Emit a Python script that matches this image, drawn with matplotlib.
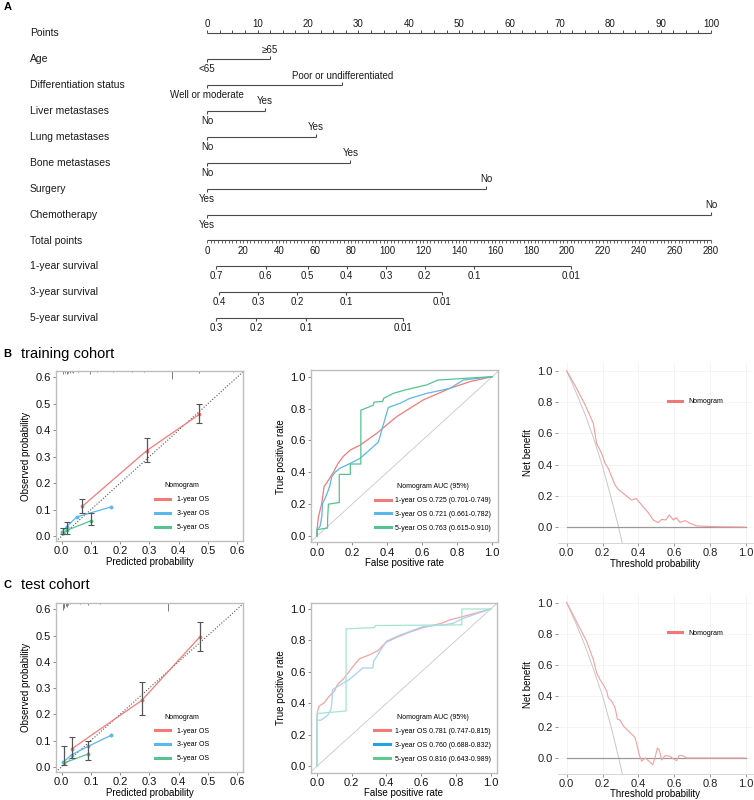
import numpy as np
import matplotlib
matplotlib.use("Agg")
import matplotlib.pyplot as plt

plt.rcParams['font.family'] = ['Liberation Sans', 'DejaVu Sans']

W, H = 754, 800

# ---------------- panel A: nomogram ----------------
nomo_vars = ["Age", "Differentiation status", "Liver metastases", "Lung metastases",
             "Bone metastases", "Surgery", "Chemotherapy"]
nomo_low = ["<65", "Well or moderate", "No", "No", "No", "Yes", "Yes"]
nomo_high = ["≥65", "Poor or undifferentiated", "Yes", "Yes", "Yes", "No", "No"]
nomo_points = [12.4, 26.8, 11.4, 21.6, 28.4, 55.4, 100.0]

surv_rows = ["1-year survival", "3-year survival", "5-year survival"]
surv_1y_lab = ["0.7", "0.6", "0.5", "0.4", "0.3", "0.2", "0.1", "0.01"]
surv_1y_tp = [5.0, 32.5, 55.7, 77.4, 99.5, 120.9, 148.2, 202.0]
surv_3y_lab = ["0.4", "0.3", "0.2", "0.1", "0.01"]
surv_3y_tp = [6.4, 28.1, 50.1, 77.2, 130.2]
surv_5y_lab = ["0.3", "0.2", "0.1", "0.01"]
surv_5y_tp = [4.8, 27.1, 54.8, 108.7]
total_max = 280

# ---------------- calibration ----------------
cal_tr_1y_x = [0.071, 0.291, 0.471]
cal_tr_1y_y = [0.113, 0.323, 0.460]
cal_tr_1y_lo = [0.086, 0.281, 0.426]
cal_tr_1y_hi = [0.140, 0.369, 0.499]
cal_tr_3y_x = [0.002, 0.017, 0.051, 0.169]
cal_tr_3y_y = [0.016, 0.035, 0.072, 0.110]
cal_tr_5y_x = [0.004, 0.018, 0.099]
cal_tr_5y_y = [0.011, 0.022, 0.057]
cal_tr_5y_lo = [0.006, 0.006, 0.042]
cal_tr_5y_hi = [0.029, 0.054, 0.087]
rug_tr_x = [0.006, 0.011, 0.017, 0.023, 0.029, 0.034, 0.040, 0.057, 0.097, 0.120,
            0.177, 0.240, 0.280, 0.379, 0.471, 0.587]
rug_tr_h = [0.012, 0.010, 0.012, 0.008, 0.010, 0.006, 0.008, 0.006, 0.014, 0.006,
            0.006, 0.006, 0.006, 0.030, 0.010, 0.006]

cal_te_1y_x = [0.034, 0.274, 0.473]
cal_te_1y_y = [0.068, 0.253, 0.495]
cal_te_1y_lo = [0.035, 0.196, 0.441]
cal_te_1y_hi = [0.112, 0.323, 0.551]
cal_te_3y_x = [0.006, 0.034, 0.091, 0.169]
cal_te_3y_y = [0.018, 0.046, 0.078, 0.120]
cal_te_5y_x = [0.009, 0.091]
cal_te_5y_y = [0.015, 0.049]
cal_te_5y_lo = [0.006, 0.024]
cal_te_5y_hi = [0.079, 0.097]
rug_te_x = [0.006, 0.009, 0.014, 0.017, 0.023, 0.029, 0.063, 0.091, 0.131, 0.365]
rug_te_h = [0.028, 0.020, 0.012, 0.016, 0.008, 0.006, 0.006, 0.008, 0.006, 0.030]

os_labels = ["1-year OS", "3-year OS", "5-year OS"]

# ---------------- ROC ----------------
roc_tr_1y_fpr = [0, 0, 0.008, 0.027, 0.04, 0.065, 0.093, 0.12, 0.15, 0.19, 0.245, 0.34,
                 0.454, 0.606, 0.759, 0.873, 1.0]
roc_tr_1y_tpr = [0, 0.04, 0.12, 0.205, 0.31, 0.35, 0.40, 0.456, 0.50, 0.54, 0.57, 0.644,
                 0.749, 0.854, 0.927, 0.969, 1.0]
roc_tr_3y_fpr = [0, 0, 0.017, 0.027, 0.032, 0.05, 0.065, 0.074, 0.084, 0.103, 0.13, 0.19,
                 0.245, 0.30, 0.35, 0.375, 0.407, 0.473, 0.53, 0.625, 0.759, 0.835, 1.0]
roc_tr_3y_tpr = [0, 0.04, 0.06, 0.12, 0.205, 0.247, 0.289, 0.32, 0.372, 0.40, 0.425, 0.456,
                 0.487, 0.54, 0.59, 0.686, 0.807, 0.833, 0.864, 0.895, 0.927, 0.979, 1.0]
roc_tr_5y_fpr = [0, 0, 0.06, 0.06, 0.065, 0.127, 0.127, 0.19, 0.19, 0.25, 0.25, 0.32, 0.325,
                 0.375, 0.38, 0.435, 0.5, 0.625, 0.69, 1.0]
roc_tr_5y_tpr = [0, 0.04, 0.05, 0.1, 0.2, 0.21, 0.387, 0.387, 0.452, 0.452, 0.79, 0.82, 0.84,
                 0.845, 0.864, 0.895, 0.916, 0.948, 0.979, 1.0]
roc_tr_labels = ["1-year OS 0.725 (0.701-0.749)", "3-year OS 0.721 (0.661-0.782)",
                 "5-year OS 0.763 (0.615-0.910)"]

roc_te_1y_fpr = [0, 0, 0.004, 0.013, 0.042, 0.071, 0.1, 0.119, 0.158, 0.187, 0.216, 0.245,
                 0.303, 0.351, 0.399, 0.457, 0.534, 0.611, 0.717, 0.765, 0.861, 1.0]
roc_te_1y_tpr = [0, 0.29, 0.35, 0.383, 0.404, 0.446, 0.478, 0.52, 0.562, 0.604, 0.646, 0.684,
                 0.709, 0.735, 0.789, 0.819, 0.853, 0.882, 0.909, 0.931, 0.958, 1.0]
roc_te_3y_fpr = [0, 0, 0.023, 0.062, 0.081, 0.087, 0.09, 0.187, 0.264, 0.322, 0.326, 0.36,
                 0.399, 0.457, 0.534, 0.611, 0.726, 0.784, 0.842, 1.0]
roc_te_3y_tpr = [0, 0.293, 0.293, 0.324, 0.362, 0.415, 0.488, 0.552, 0.625, 0.625, 0.667,
                 0.726, 0.794, 0.825, 0.857, 0.888, 0.899, 0.909, 0.941, 1.0]
roc_te_5y_fpr = [0, 0, 0.168, 0.168, 0.331, 0.337, 0.834, 0.834, 1.0]
roc_te_5y_tpr = [0, 0.335, 0.352, 0.874, 0.882, 0.895, 0.899, 1.0, 1.0]
roc_te_labels = ["1-year OS 0.781 (0.747-0.815)", "3-year OS 0.760 (0.688-0.832)",
                 "5-year OS 0.816 (0.643-0.989)"]

# ---------------- DCA ----------------
dca_tr_x = [0, 0.05, 0.1, 0.149, 0.167, 0.195, 0.214, 0.232, 0.27, 0.288, 0.316, 0.362,
            0.387, 0.418, 0.455, 0.483, 0.511, 0.53, 0.552, 0.572, 0.595, 0.61, 0.632,
            0.66, 0.688, 0.725, 0.836, 0.994]
dca_tr_nb = [1.0, 0.90, 0.79, 0.664, 0.536, 0.472, 0.409, 0.377, 0.27, 0.243, 0.217, 0.174,
             0.185, 0.143, 0.094, 0.047, 0.03, 0.051, 0.047, 0.079, 0.047, 0.062, 0.032,
             0.043, 0.026, 0.009, 0.004, 0.002]
dca_te_x = [0, 0.112, 0.149, 0.167, 0.186, 0.204, 0.223, 0.232, 0.251, 0.27, 0.283, 0.297,
            0.316, 0.353, 0.381, 0.39, 0.405, 0.418, 0.437, 0.455, 0.48, 0.493, 0.506,
            0.517, 0.53, 0.548, 0.576, 0.595, 0.613, 0.628, 0.647, 0.669, 0.994]
dca_te_nb = [1.0, 0.749, 0.632, 0.547, 0.504, 0.472, 0.43, 0.387, 0.366, 0.323, 0.249, 0.245,
             0.206, 0.164, 0.132, 0.094, 0.019, -0.021, 0.0, -0.017, -0.043, 0.004, 0.064,
             0.047, -0.013, 0.015, 0.011, -0.006, -0.017, 0.017, 0.015, 0.0, 0.0]
dca_all_x = [0, 0.05, 0.1, 0.15, 0.2, 0.25, 0.29, 0.33]
dca_tr_all = [1.0, 0.87, 0.73, 0.57, 0.39, 0.18, 0.0, -0.2]
dca_te_all = [1.0, 0.87, 0.73, 0.57, 0.40, 0.19, 0.0, -0.2]
dca_none_x = [0, 1.0]
dca_none = [0, 0]

RED, BLUE, GREEN = '#F47A7A', '#5BB7EC', '#55C48E'
RED_L, BLUE_L, GREEN_L = '#F6A3A3', '#A6D3F3', '#A3E4D2'

fig = plt.figure(figsize=(W / 100, H / 100), dpi=100)


def rect(left, top, right, bottom):
    return [left / W, 1 - bottom / H, (right - left) / W, (bottom - top) / H]


# ---------------- nomogram ----------------
x0, ppu = 207.3, 5.037          # pixel of 0 points, pixels per point
axn = fig.add_axes([0, 1 - 335 / H, 1, 335 / H])
axn.set_xlim(-x0 / ppu, (W - x0) / ppu)
axn.set_ylim(335, 0)
axn.axis('off')
LC, TC = '#4a4a4a', '#1a1a1a'
rows = 33.3 + 25.9 * np.arange(12)
lab_x = (30 - x0) / ppu

axn.text(lab_x, rows[0], "Points", fontsize=7.5, color=TC, va='center')
axn.hlines(rows[0], 0, 100, color=LC, lw=0.8)
axn.vlines(np.arange(0, 100.1, 2.5), rows[0] - 3, rows[0], color=LC, lw=0.7)
for v in range(0, 101, 10):
    axn.text(v, rows[0] - 9, str(v), fontsize=7, color=TC, ha='center', va='center')

for i, name in enumerate(nomo_vars):
    y = rows[i + 1]
    axn.text(lab_x, y, name, fontsize=7.5, color=TC, va='center')
    axn.hlines(y, 0, nomo_points[i], color=LC, lw=0.8)
    axn.vlines([0], y, y + 3, color=LC, lw=0.8)
    axn.vlines([nomo_points[i]], y - 3, y, color=LC, lw=0.8)
    axn.text(0, y + 10, nomo_low[i], fontsize=7, color=TC, ha='center', va='center')
    axn.text(nomo_points[i], y - 9.5, nomo_high[i], fontsize=7, color=TC, ha='center', va='center')

y = rows[8]
sc = 100 / total_max
axn.text(lab_x, y, "Total points", fontsize=7.5, color=TC, va='center')
axn.hlines(y, 0, 100, color=LC, lw=0.8)
axn.vlines(np.arange(0, total_max + 0.1, 2) * sc, y, y + 2.5, color=LC, lw=0.6)
for v in range(0, total_max + 1, 20):
    axn.text(v * sc, y + 10, str(v), fontsize=7, color=TC, ha='center', va='center')

for k, (labs, tps) in enumerate([(surv_1y_lab, surv_1y_tp), (surv_3y_lab, surv_3y_tp),
                                 (surv_5y_lab, surv_5y_tp)]):
    y = rows[9 + k]
    xs = np.array(tps) * sc
    axn.text(lab_x, y, surv_rows[k], fontsize=7.5, color=TC, va='center')
    axn.hlines(y, xs[0], xs[-1], color=LC, lw=0.8)
    axn.vlines(xs, y, y + 3, color=LC, lw=0.8)
    for xv, lb in zip(xs, labs):
        axn.text(xv, y + 10, lb, fontsize=7, color=TC, ha='center', va='center')

# ---------------- helpers ----------------
def style_box(ax):
    for s in ax.spines.values():
        s.set_color('#BDBDBD')
        s.set_linewidth(1.0)
    ax.tick_params(length=2.5, width=0.6, color='#777777', labelsize=8, pad=1.2,
                   labelcolor='#111111')


def draw_cal(ax, d1, d3, d5, rug_x, rug_h):
    ax.set_xlim(-0.02, 0.62)
    ax.set_ylim(-0.02, 0.625)
    ax.axline((0, 0), (1, 1), color='#555555', lw=0.8, ls=(0, (1, 1.6)))
    ax.vlines(rug_x, 0.625 - np.array(rug_h), 0.625, color='#666666', lw=0.6)
    x, yv, lo, hi = [np.array(a) for a in d1]
    ax.plot(x, yv, color=RED, lw=0.9, marker='o', ms=1.8, label=os_labels[0], zorder=3)
    x3, y3 = d3
    ax.plot(x3, y3, color=BLUE, lw=0.9, marker='o', ms=1.8, label=os_labels[1], zorder=3)
    x5, y5, lo5, hi5 = [np.array(a) for a in d5]
    ax.plot(x5, y5, color=GREEN, lw=0.9, marker='o', ms=1.8, label=os_labels[2], zorder=3)
    ax.errorbar(x, yv, yerr=[yv - lo, hi - yv], fmt='none', ecolor='#555555',
                elinewidth=0.9, capsize=2, capthick=0.8, zorder=4)
    ax.errorbar(x5, y5, yerr=[y5 - lo5, hi5 - y5], fmt='none', ecolor='#555555',
                elinewidth=0.9, capsize=2, capthick=0.8, zorder=4)
    ticks = np.arange(0, 0.61, 0.1)
    ax.set_xticks(ticks)
    ax.set_yticks(ticks)
    ax.set_xticklabels(['%.1f' % t for t in ticks])
    ax.set_yticklabels(['%.1f' % t for t in ticks])
    style_box(ax)
    ax.set_xlabel("Predicted probability", fontsize=7, labelpad=0.5)
    ax.set_ylabel("Observed probability", fontsize=7, labelpad=3)
    leg = ax.legend(loc='upper left', bbox_to_anchor=(0.53, 0.345), frameon=False,
                    title="Nomogram", fontsize=5, title_fontsize=5, handlelength=2.2,
                    handletextpad=0.9, labelspacing=1.0, borderpad=0, borderaxespad=0)
    for h in leg.get_lines():
        h.set_linewidth(2.2)
        h.set_marker('')


def draw_roc(ax, curves, cols, leg_cols, labels):
    ax.set_xlim(-0.035, 1.035)
    ax.set_ylim(-0.04, 1.04)
    ax.axline((0, 0), (1, 1), color='#C8C8C8', lw=0.6)
    for (f, t), c in zip(curves, cols):
        ax.plot(f, t, color=c, lw=0.9)
    for c, lb in zip(leg_cols, labels):
        ax.plot([], [], color=c, lw=2.2, label=lb)
    ticks = np.arange(0, 1.01, 0.2)
    ax.set_xticks(ticks)
    ax.set_yticks(ticks)
    ax.set_xticklabels(['%.1f' % t for t in ticks])
    ax.set_yticklabels(['%.1f' % t for t in ticks])
    style_box(ax)
    ax.set_xlabel("False positive rate", fontsize=7, labelpad=0.5)
    ax.set_ylabel("True positive rate", fontsize=7, labelpad=3)
    ax.legend(loc='upper left', bbox_to_anchor=(0.342, 0.345), frameon=False,
              title="Nomogram AUC (95%)", fontsize=5, title_fontsize=5, handlelength=2.3,
              handletextpad=0.6, labelspacing=1.0, borderpad=0, borderaxespad=0)


def draw_dca(ax, x, nb, all_nb, col, leg_y):
    ax.set_xlim(-0.05, 1.04)
    ax.set_ylim(-0.1, 1.05)
    ticks = np.arange(0, 1.01, 0.2)
    ax.set_xticks(ticks)
    ax.set_yticks(ticks)
    ax.set_xticklabels(['%.1f' % t for t in ticks])
    ax.set_yticklabels(['%.1f' % t for t in ticks])
    ax.grid(True, color='#F2F2F2', lw=0.6)
    ax.set_axisbelow(True)
    ax.plot(dca_all_x, all_nb, color='#C8C8C8', lw=0.7)
    ax.plot(dca_none_x, dca_none, color='#9A9A9A', lw=0.9)
    ax.plot(x, nb, color=col, lw=0.8)
    ax.plot([], [], color='#F27878', lw=2.2, label="Nomogram")
    for s in ['top', 'right', 'left']:
        ax.spines[s].set_visible(False)
    ax.spines['bottom'].set_color('#D0D0D0')
    ax.spines['bottom'].set_linewidth(0.6)
    ax.tick_params(length=2.5, width=0.6, color='#888888', labelsize=8, pad=1.2,
                   labelcolor='#222222')
    ax.set_xlabel("Threshold probability", fontsize=7, labelpad=0.5)
    ax.set_ylabel("Net benefit", fontsize=7, labelpad=3)
    ax.legend(loc='center left', bbox_to_anchor=(0.564, leg_y), frameon=False,
              fontsize=5, handlelength=2.0, handletextpad=0.9, borderpad=0, borderaxespad=0)


# ---------------- panel labels ----------------
fig.text(4 / W, 1 - 7 / H, "A", fontsize=8, weight='bold', va='center')
fig.text(3 / W, 1 - 354 / H, "B", fontsize=8, weight='bold', va='center')
fig.text(21 / W, 1 - 354 / H, "training cohort", fontsize=10.5, va='center')
fig.text(3 / W, 1 - 585 / H, "C", fontsize=8, weight='bold', va='center')
fig.text(21 / W, 1 - 585 / H, "test cohort", fontsize=10.5, va='center')

# ---------------- panel B ----------------
ax = fig.add_axes(rect(55.9, 370.7, 242.9, 541.3))
draw_cal(ax, (cal_tr_1y_x, cal_tr_1y_y, cal_tr_1y_lo, cal_tr_1y_hi),
         (cal_tr_3y_x, cal_tr_3y_y),
         (cal_tr_5y_x, cal_tr_5y_y, cal_tr_5y_lo, cal_tr_5y_hi), rug_tr_x, rug_tr_h)

ax = fig.add_axes(rect(310.9, 370.3, 498.4, 542.4))
draw_roc(ax, [(roc_tr_1y_fpr, roc_tr_1y_tpr), (roc_tr_3y_fpr, roc_tr_3y_tpr),
              (roc_tr_5y_fpr, roc_tr_5y_tpr)],
         [RED, BLUE, GREEN], [RED, BLUE, GREEN], roc_tr_labels)

ax = fig.add_axes(rect(557.7, 363.1, 753.2, 543.0))
draw_dca(ax, dca_tr_x, dca_tr_nb, dca_tr_all, '#F59A9A', 0.784)

# ---------------- panel C ----------------
ax = fig.add_axes(rect(55.9, 602.7, 242.9, 772.0))
draw_cal(ax, (cal_te_1y_x, cal_te_1y_y, cal_te_1y_lo, cal_te_1y_hi),
         (cal_te_3y_x, cal_te_3y_y),
         (cal_te_5y_x, cal_te_5y_y, cal_te_5y_lo, cal_te_5y_hi), rug_te_x, rug_te_h)

ax = fig.add_axes(rect(310.8, 602.7, 496.8, 772.6))
draw_roc(ax, [(roc_te_1y_fpr, roc_te_1y_tpr), (roc_te_3y_fpr, roc_te_3y_tpr),
              (roc_te_5y_fpr, roc_te_5y_tpr)],
         [RED_L, BLUE_L, GREEN_L], [RED, '#1FA2E6', '#5FC98F'], roc_te_labels)

ax = fig.add_axes(rect(557.7, 594.8, 753.2, 773.5))
draw_dca(ax, dca_te_x, dca_te_nb, dca_te_all, '#F5A0A0', 0.784)

fig.savefig("out.png", dpi=100)
